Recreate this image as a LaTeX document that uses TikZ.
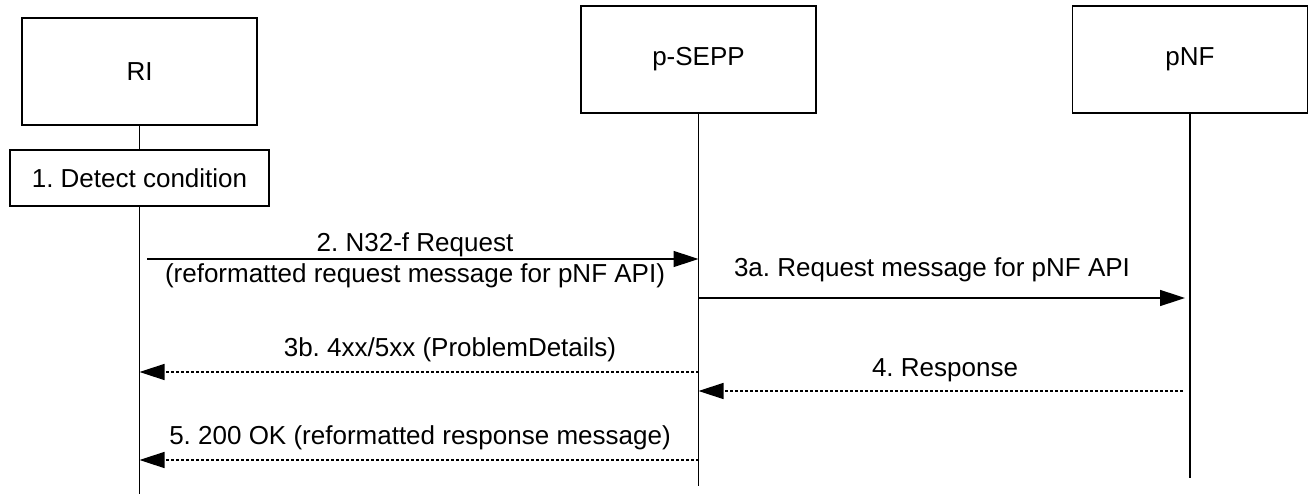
\documentclass[tikz,border=0pt]{standalone}
\usepackage{fontspec}
\setmainfont{Liberation Sans}
\frenchspacing
\usetikzlibrary{arrows.meta}
\begin{document}
\begin{tikzpicture}[x=1pt,y=-1pt,
  ent/.style={draw, line width=1.5pt, minimum width=235pt, minimum height=107pt, inner sep=0pt,
    font=\fontsize{26}{31}\selectfont},
  stepbox/.style={draw, line width=1.5pt, minimum width=259pt, minimum height=56pt, inner sep=0pt,
    font=\fontsize{26}{31}\selectfont},
  lbl/.style={font=\fontsize{26}{31}\selectfont, inner sep=0pt, align=center},
  life/.style={line width=1.5pt},
  msg/.style={line width=1.5pt, -{Triangle[length=25pt,width=16pt]}},
  rsp/.style={msg, dash pattern=on 3pt off 2pt}]
\useasboundingbox (0,0) rectangle (1308,494);
% entities
\node[ent] (ri) at (139.5,71.5) {RI};
\node[ent] (sepp) at (698.5,59.5) {p-SEPP};
\node[ent] (pnf) at (1190,59.5) {pNF};
\node[stepbox] (det) at (139.5,178) {1. Detect condition};
% lifeline ends
\coordinate (riend) at (139.5,494);
\coordinate (seppend) at (698.5,486);
\coordinate (pnfend) at (1190,478);
\draw[life] (ri.south) -- (det.north);
\draw[life] (det.south) -- (riend);
\draw[life] (sepp.south) -- (seppend);
\draw[life] (pnf.south) -- (pnfend);
% message anchors
\coordinate (m2s) at (147,259);   \coordinate (m2e) at (698.5,259);
\coordinate (m3as) at (698.5,298); \coordinate (m3ae) at (1185,298);
\coordinate (m3bs) at (698.5,372); \coordinate (m3be) at (139.5,372);
\coordinate (m4s) at (1183,391);  \coordinate (m4e) at (698.5,391);
\coordinate (m5s) at (698.5,460); \coordinate (m5e) at (139.5,460);
% messages
\draw[msg] (m2s) -- (m2e);
\draw[msg] (m3as) -- (m3ae);
\draw[rsp] (m3bs) -- (m3be);
\draw[rsp] (m4s) -- (m4e);
\draw[rsp] (m5s) -- (m5e);
% labels
\node[lbl] (l2) at (415,260) {2. N32-f Request\\(reformatted request message for pNF API)};
\node[lbl] (l3a) at (932,270) {3a. Request message for pNF API};
\node[lbl] (l3b) at (450,350) {3b. 4xx/5xx (ProblemDetails)};
\node[lbl] (l4) at (945,370) {4. Response};
\node[lbl] (l5) at (420,438) {5. 200 OK (reformatted response message)};
\end{tikzpicture}
\end{document}
